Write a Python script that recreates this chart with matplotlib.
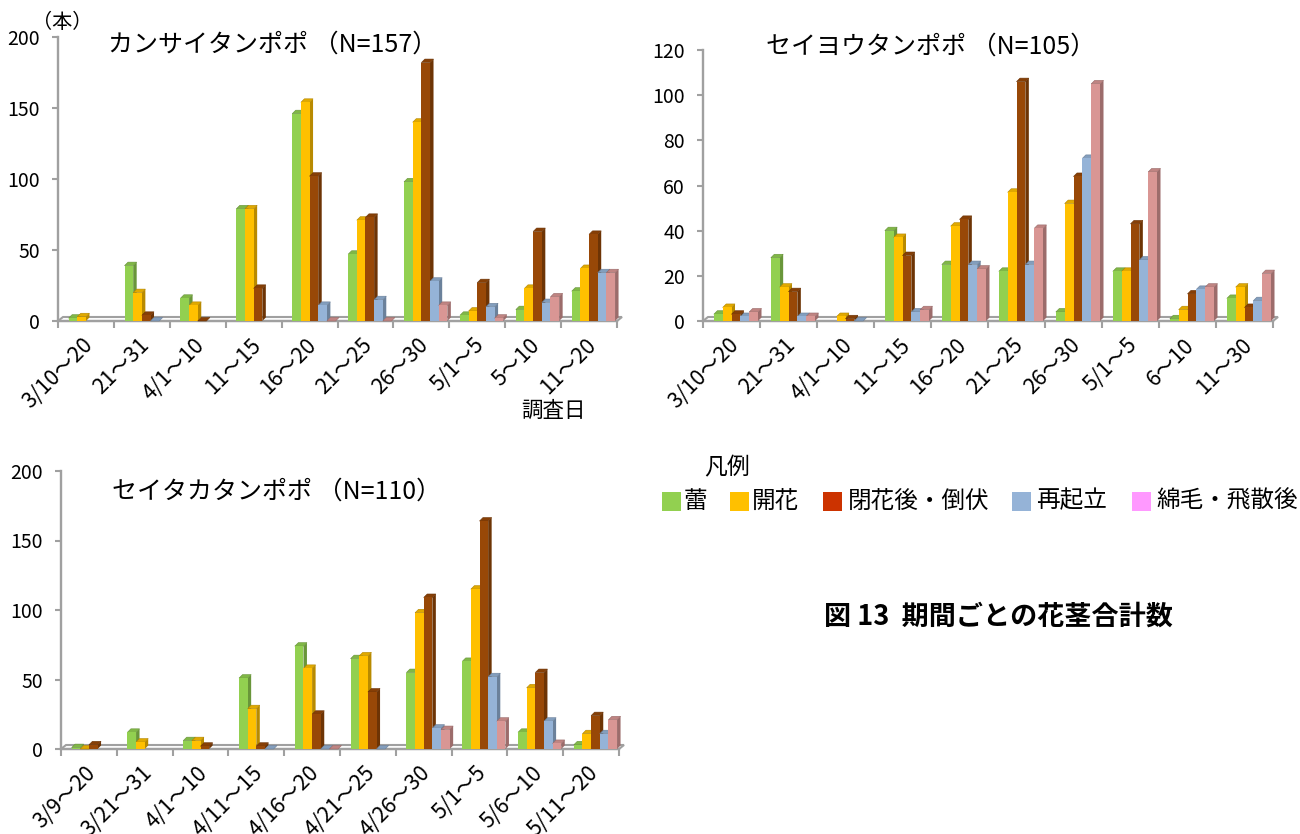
import numpy as np
import matplotlib
matplotlib.use("Agg")
import matplotlib.pyplot as plt
import matplotlib.colors as mcolors
from matplotlib.patches import Polygon, Rectangle
from matplotlib.transforms import ScaledTranslation

plt.rcParams["font.family"] = ["Noto Sans CJK JP", "DejaVu Sans"]

nan = np.nan

# ---- data -------------------------------------------------------------
series_names = ["蕾", "開花", "閉花後・倒伏", "再起立", "綿毛・飛散後"]

# カンサイタンポポ
kansai_labels = ["3/10～20", "21～31", "4/1～10", "11～15", "16～20",
                 "21～25", "26～30", "5/1～5", "5～10", "11～20"]
kansai_bud = [2, 39, 16, 79, 146, 47, 98, 4, 8, 21]
kansai_open = [3, 20, 11, 79, 154, 71, 140, 7, 23, 37]
kansai_closed = [nan, 4, 0, 23, 102, 73, 182, 27, 63, 61]
kansai_reraised = [nan, 0, nan, nan, 11, 15, 28, 10, 13, 34]
kansai_seed = [nan, nan, nan, nan, 0, 0, 11, 2, 17, 34]

# セイヨウタンポポ
seiyou_labels = ["3/10～20", "21～31", "4/1～10", "11～15", "16～20",
                 "21～25", "26～30", "5/1～5", "6～10", "11～30"]
seiyou_bud = [3, 28, nan, 40, 25, 22, 4, 22, 1, 10]
seiyou_open = [6, 15, 2, 37, 42, 57, 52, 22, 5, 15]
seiyou_closed = [3, 13, 1, 29, 45, 106, 64, 43, 12, 6]
seiyou_reraised = [2, 2, 0, 4, 25, 25, 72, 27, 14, 9]
seiyou_seed = [4, 2, nan, 5, 23, 41, 105, 66, 15, 21]

# セイタカタンポポ
seitaka_labels = ["3/9～20", "3/21～31", "4/1～10", "4/11～15", "4/16～20",
                  "4/21～25", "4/26～30", "5/1～5", "5/6～10", "5/11～20"]
seitaka_bud = [1, 12, 6, 51, 74, 65, 55, 63, 12, 3]
seitaka_open = [0, 5, 6, 29, 58, 67, 98, 115, 44, 11]
seitaka_closed = [3, nan, 2, 2, 25, 41, 109, 164, 55, 24]
seitaka_reraised = [nan, nan, nan, 0, 0, 0, 15, 52, 20, 11]
seitaka_seed = [nan, nan, nan, nan, 0, nan, 14, 20, 4, 21]

# ---- styling ----------------------------------------------------------
bar_colors = ["#92D050", "#FFC000", "#984807", "#95B3D7", "#D99694"]
legend_colors = ["#92D050", "#FFC000", "#CC3300", "#95B3D7", "#FF99FF"]
AXIS_GRAY = "#A0A0A0"

W, H = 1300, 834
fig = plt.figure(figsize=(W / 100, H / 100), dpi=100)


def shade(c, f):
    return tuple(np.clip(np.array(mcolors.to_rgb(c)) * f, 0, 1))


def axes_px(left, right, base, top):
    return fig.add_axes([left / W, 1 - base / H, (right - left) / W, (base - top) / H])


def draw_panel(ax, series, ymax, ystep, labels):
    ax.set_xlim(0, 10)
    ax.set_ylim(0, ymax)
    ux = ax.bbox.width / 10.0
    uy = ax.bbox.height / ymax
    ddx, ddy = 3.5 / ux, 3.5 / uy
    fdx, fdy = 5.0 / ux, 4.0 / uy

    # floor of the 3D box
    floor = Polygon([(0, 0), (10, 0), (10 + fdx, fdy), (fdx, fdy)], closed=True,
                    fc="white", ec=AXIS_GRAY, lw=1.5, clip_on=False, zorder=1)
    ax.add_patch(floor)

    offset, bw = 0.19, 0.155
    groups = np.arange(len(labels))
    for s, vals in enumerate(series):
        vals = np.asarray(vals, dtype=float)
        col = bar_colors[s]
        xs = groups + offset + s * bw
        z = 3 + s * 0.1
        ax.bar(xs, np.nan_to_num(vals), width=bw, align="edge", color=col,
               edgecolor="none", zorder=z + 0.02, clip_on=False)
        for x, v in zip(xs, vals):
            if np.isnan(v):
                continue
            side = Polygon([(x + bw, 0), (x + bw + ddx, ddy), (x + bw + ddx, v + ddy),
                            (x + bw, v)], closed=True, fc=shade(col, 0.72),
                           ec="none", clip_on=False, zorder=z)
            top = Polygon([(x, v), (x + bw, v), (x + bw + ddx, v + ddy), (x + ddx, v + ddy)],
                          closed=True, fc=shade(col, 0.88), ec=shade(col, 0.7), lw=0.4,
                          clip_on=False, zorder=z + 0.01)
            ax.add_patch(side)
            ax.add_patch(top)

    for sp in ("top", "right"):
        ax.spines[sp].set_visible(False)
    for sp in ("left", "bottom"):
        ax.spines[sp].set_color(AXIS_GRAY)
        ax.spines[sp].set_linewidth(1.7)
    ax.set_yticks(np.arange(0, ymax + 1, ystep))
    ax.set_xticks(np.arange(11))
    ax.set_xticklabels([])
    ax.tick_params(axis="y", direction="out", length=4, width=1.5, color=AXIS_GRAY,
                   labelsize=14, pad=9)
    ax.tick_params(axis="x", direction="out", length=5, width=1.5, color=AXIS_GRAY)
    ax.patch.set_visible(False)

    lab_tr = ax.transData + ScaledTranslation(-0.04, -0.13, fig.dpi_scale_trans)
    for i, lab in enumerate(labels):
        ax.text(i + 0.5, 0, lab, transform=lab_tr, rotation=45, rotation_mode="anchor",
                ha="right", va="top", fontsize=15.5, clip_on=False)


ax1 = axes_px(58, 617, 321, 37)
draw_panel(ax1, [kansai_bud, kansai_open, kansai_closed, kansai_reraised, kansai_seed],
           200, 50, kansai_labels)

ax2 = axes_px(703, 1273, 321, 50)
draw_panel(ax2, [seiyou_bud, seiyou_open, seiyou_closed, seiyou_reraised, seiyou_seed],
           120, 20, seiyou_labels)

ax3 = axes_px(61, 619, 749, 471)
draw_panel(ax3, [seitaka_bud, seitaka_open, seitaka_closed, seitaka_reraised, seitaka_seed],
           200, 50, seitaka_labels)

# ---- texts ------------------------------------------------------------
fig.text(108 / W, 1 - 45 / H, "カンサイタンポポ （N=157）", fontsize=18, ha="left", va="center")
fig.text(766 / W, 1 - 47 / H, "セイヨウタンポポ （N=105）", fontsize=18, ha="left", va="center")
fig.text(112 / W, 1 - 492 / H, "セイタカタンポポ （N=110）", fontsize=18, ha="left", va="center")
fig.text(62 / W, 1 - 22 / H, "（本）", fontsize=14.5, ha="center", va="center")
fig.text(553 / W, 1 - 411 / H, "調査日", fontsize=15.5, ha="center", va="center")

# legend
fig.text(727 / W, 1 - 468 / H, "凡例", fontsize=16.5, ha="center", va="center")
sq_x = [662, 730, 823, 1012, 1132]
txt_x = [684, 752, 848, 1036, 1156]
for name, col, sx, tx in zip(series_names, legend_colors, sq_x, txt_x):
    fig.patches.append(Rectangle((sx / W, 1 - 511 / H), 19 / W, 19 / H, fc=col, ec="none",
                                 transform=fig.transFigure, figure=fig))
    fig.text(tx / W, 1 - 501 / H, name, fontsize=17, ha="left", va="center")

fig.text(998 / W, 1 - 617 / H, "図 13  期間ごとの花茎合計数", fontsize=19.5,
         fontweight="bold", ha="center", va="center")

fig.savefig("out.png", dpi=100)
